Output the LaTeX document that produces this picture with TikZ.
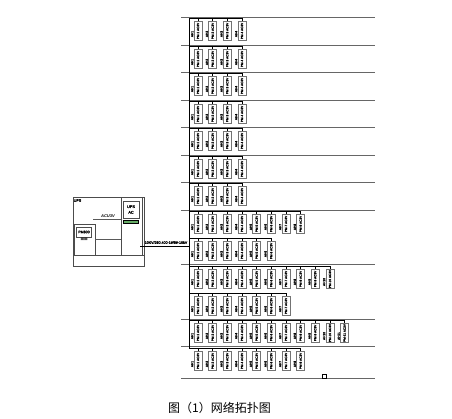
\documentclass[tikz,border=0pt]{standalone}
\usepackage{fontspec}
\setmainfont{Liberation Sans}
\newfontfamily\cjk{Noto Sans CJK SC}
\newfontfamily\heavy[FakeBold=3]{Liberation Sans}
\tikzset{
  x=1pt,y=-1pt,
  feeder/.style={draw=black!60,line width=.8pt},
  busline/.style={draw=black,line width=.9pt},
  thinline/.style={draw=black!65,line width=.7pt},
  meter/.style={draw=black!55,line width=.75pt,fill=white,minimum width=8pt,minimum height=18.5pt,inner sep=0pt,
     font=\heavy\fontsize{3.1}{3.5}\selectfont},
  tag/.style={inner sep=0pt,font=\heavy\fontsize{3.2}{3.5}\selectfont,rotate=90},
  panel/.style={draw=black!70,line width=.8pt},
  tiny/.style={inner sep=0pt,font=\heavy\fontsize{3.6}{4}\selectfont}
}
\begin{document}
\begin{tikzpicture}
\useasboundingbox (0,0) rectangle (452,419);
% horizontal lines
\foreach \n/\y in {a/17,b/45,c/72,d/100,e/127,f/155,g/182,h/210,i/264.5,j/319,k/346.5,l/378}{
  \coordinate (\n L) at (181,\y);
  \coordinate (\n R) at (375,\y);
  \draw[feeder] (\n L) -- (\n R);
}
% vertical bus
\coordinate (busT) at (189,18);
\coordinate (busB) at (189,347.5);
\draw[busline] (busT) -- (busB);
% rows of meters
\foreach \r/\y/\m in {1/17/4,2/45/4,3/72/4,4/100/4,5/127/4,6/155/4,7/182/4,8/210/8,9/237/6,10/265/10,11/292/7,12/319/11,13/347/8}{
  \coordinate (start\r) at (189,\y+1.5);
  \foreach \c [evaluate=\c as \cx using {198+14.66*(\c-1)}] in {1,...,\m}{
    \node[meter] (box\r-\c) at (\cx,\y+14) {\rotatebox{90}{PM-\c\ AC3V}};
    \node[tag] (tag\r-\c) at (\cx-5.8,\y+17) {AH\c};
    \coordinate (top\r-\c) at (\cx,\y+1.5);
    \draw[busline,line width=.6pt] (top\r-\c) -- (box\r-\c.north);
  }
  \draw[busline] (start\r) -- (top\r-\m);
}
% marker on bottom line
\node[draw=black,line width=.6pt,fill=white,minimum size=4pt,inner sep=0pt] (mark) at (324,376) {};
% control room
\coordinate (o1) at (73.5,197);
\coordinate (o2) at (144,266);
\draw[panel] (o1) rectangle (o2);
\coordinate (fl1) at (73.5,255); \coordinate (fl2) at (144,255);
\draw[panel] (fl1) -- (fl2);
\node[panel,minimum width=21pt,minimum height=58pt,inner sep=0pt,fill=white] (rack) at (131.5,226.5) {};
\node[panel,minimum width=21pt,minimum height=31pt,inner sep=0pt,fill=white] (desk) at (84.5,239.5) {};
\node[panel,minimum width=16pt,minimum height=17pt,inner sep=0pt] (srv) at (131,209.5) {\heavy\fontsize{3.8}{4.5}\selectfont\shortstack{UPS\\ AC}};
\node[draw=black,line width=.5pt,fill=green!45!black!60,minimum width=15pt,minimum height=3pt,inner sep=0pt] (bar) at (130.5,221.5) {};
\node[panel,minimum width=15pt,minimum height=10pt,inner sep=0pt] (pc) at (84,232) {\heavy\fontsize{3.6}{4}\selectfont PM800};
\node[inner sep=0pt,font=\heavy\fontsize{3.4}{4}\selectfont] (pct) at (84,238.8) {IIIIIII};
\node[tiny] (corner) at (77.5,200.5) {UPS};
\coordinate (la) at (93,219);
\draw[thinline] (la) -- (rack.west |- la);
\node[inner sep=0pt,font=\fontsize{4}{5}\itshape\bfseries\selectfont] (acu) at (108,216) {ACU3V};
\draw[thinline] (desk.east |- 0,239) -- (rack.west |- 0,239);
% trunk
\coordinate (tr1) at (140,246);
\coordinate (tr2) at (189,246);
\draw[busline] (tr1) -- (tr2);
\node[tiny] (trunk) at (166,242.5) {10KV/380.400-1\#/8\#-10kV};
% caption
\node[inner sep=0pt,anchor=west,font=\cjk\fontsize{12}{14}\selectfont] (cap) at (168,407.5) {图（1）网络拓扑图};
\end{tikzpicture}
\end{document}
